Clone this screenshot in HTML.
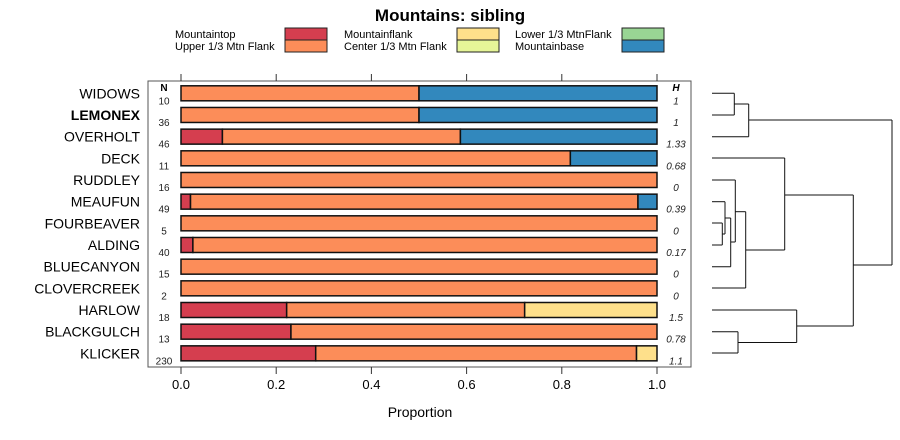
<!DOCTYPE html>
<html><head><meta charset="utf-8"><style>
body{margin:0;background:#fff;}
svg{display:block;font-family:"Liberation Sans",sans-serif;}
</style></head><body>
<svg id="chart" width="900" height="440" viewBox="0 0 900 440">
<text x="450" y="21" text-anchor="middle" font-size="17" font-weight="bold">Mountains: sibling</text>
<g id="legend"></g>
<rect x="148" y="81" width="543" height="286" fill="none" stroke="#555" stroke-width="1"/>
<g id="axes"></g>
<g id="bars"></g>
<g id="dendro"></g>
<text x="420" y="417" text-anchor="middle" font-size="14">Proportion</text>
</svg>
<script>
const categories=["WIDOWS","LEMONEX","OVERHOLT","DECK","RUDDLEY","MEAUFUN","FOURBEAVER","ALDING","BLUECANYON","CLOVERCREEK","HARLOW","BLACKGULCH","KLICKER"];
const nValues=[10,36,46,11,16,49,5,40,15,2,18,13,230];
const hValues=["1","1","1.33","0.68","0","0.39","0","0.17","0","0","1.5","0.78","1.1"];
const seriesNames=["Mountaintop","Upper 1/3 Mtn Flank","Mountainflank","Center 1/3 Mtn Flank","Lower 1/3 MtnFlank","Mountainbase"];
const seriesColors=["#d53e4f","#fc8d59","#fee08b","#e6f598","#99d594","#3288bd"];
const mountaintop=[0,0,0.087,0,0,0.02,0,0.025,0,0,0.222,0.231,0.283];
const upperFlank=[0.5,0.5,0.5,0.818,1,0.94,1,0.975,1,1,0.5,0.769,0.674];
const mountainflank=[0,0,0,0,0,0,0,0,0,0,0.278,0,0.043];
const centerFlank=[0,0,0,0,0,0,0,0,0,0,0,0,0];
const lowerFlank=[0,0,0,0,0,0,0,0,0,0,0,0,0];
const mountainbase=[0.5,0.5,0.413,0.182,0,0.04,0,0,0,0,0,0,0];
const xTicks=[0,0.2,0.4,0.6,0.8,1.0];
const xTickLabels=["0.0","0.2","0.4","0.6","0.8","1.0"];

const NS="http://www.w3.org/2000/svg";
function mk(tag,attrs,parent,text){const e=document.createElementNS(NS,tag);for(const k in attrs)e.setAttribute(k,attrs[k]);if(text!==undefined)e.textContent=text;parent.appendChild(e);return e;}
const xs=v=>181+v*476;
const ys=i=>93.3+i*21.67;

// legend
const lg=document.getElementById('legend');
const legPos=[[175,285],[175,285],[344,457],[344,457],[515,622],[515,622]];
seriesNames.forEach((n,i)=>{
  const r=i%2, y=28+r*12;
  const t=mk('text',{x:legPos[i][0],y:y+10,'font-size':11},lg,n);
  
  
  const b=mk('rect',{x:legPos[i][1],y:y,width:42,height:12,fill:seriesColors[i],stroke:'#222','stroke-width':1},lg);
  
  
});

// axes
const ax=document.getElementById('axes');
xTicks.forEach((v,i)=>{
  mk('line',{x1:xs(v),x2:xs(v),y1:81,y2:74,stroke:'#333'},ax);
  mk('line',{x1:xs(v),x2:xs(v),y1:367,y2:374,stroke:'#333'},ax);
  const t=mk('text',{x:xs(v),y:389,'text-anchor':'middle','font-size':13},ax,xTickLabels[i]);
  
  
});
let hN=mk('text',{x:164,y:91,'text-anchor':'middle','font-size':10,'font-weight':'bold'},ax,'N');


let hH=mk('text',{x:676,y:91,'text-anchor':'middle','font-size':10,'font-weight':'bold','font-style':'italic'},ax,'H');



// bars
const bg=document.getElementById('bars');
const series=[mountaintop,upperFlank,mountainflank,centerFlank,lowerFlank,mountainbase];
categories.forEach((c,i)=>{
  const cy=ys(i);
  const lab=mk('text',{x:140,y:cy+5,'text-anchor':'end','font-size':14,'font-weight':c==="LEMONEX"?'bold':'normal'},bg,c);
  
  
  const nt=mk('text',{x:164,y:cy+11,'text-anchor':'middle','font-size':10,fill:'#222'},bg,nValues[i]);
  
  
  const ht=mk('text',{x:676,y:cy+11,'text-anchor':'middle','font-size':10,'font-style':'italic',fill:'#222'},bg,hValues[i]);
  
  
  let acc=0;
  series.forEach((s,k)=>{
    const v=s[i]; if(v<=0) return;
    const r=mk('rect',{x:xs(acc),y:cy-7.5,width:xs(acc+v)-xs(acc),height:15,fill:seriesColors[k],stroke:'#111','stroke-width':1.5},bg);
    
    
    acc+=v;
  });
});

// dendrogram (leaf ends at x=712)
const dg=document.getElementById('dendro');
const segs=[
 [712,93.3,734.3,93.3],[712,115,734.3,115],[734.3,93.3,734.3,115],
 [734.3,104,748.7,104],[712,136.7,748.7,136.7],[748.7,104,748.7,136.7],
 [748.7,120,892,120],[892,120,892,265],
 [712,223,722.3,223],[712,245,722.3,245],[722.3,223,722.3,245],
 [722.3,234,725,234],[712,201.7,725,201.7],[725,201.7,725,234],
 [725,218,730.7,218],[712,266.7,730.7,266.7],[730.7,218,730.7,266.7],
 [730.7,242,735.3,242],[712,180,735.3,180],[735.3,180,735.3,242],
 [735.3,211.7,745.7,211.7],[712,288,745.7,288],[745.7,211.7,745.7,288],
 [745.7,250,784.7,250],[712,158,784.7,158],[784.7,158,784.7,250],
 [784.7,195,853.3,195],[853.3,195,853.3,326],
 [712,331.7,738,331.7],[712,353,738,353],[738,331.7,738,353],
 [738,342.5,796.7,342.5],[712,310,796.7,310],[796.7,310,796.7,342.5],
 [796.7,326,853.3,326],[853.3,265,892,265]
];
segs.forEach(s=>mk('line',{x1:s[0],y1:s[1],x2:s[2],y2:s[3],stroke:'#111','stroke-width':1},dg));
</script>
</body></html>
